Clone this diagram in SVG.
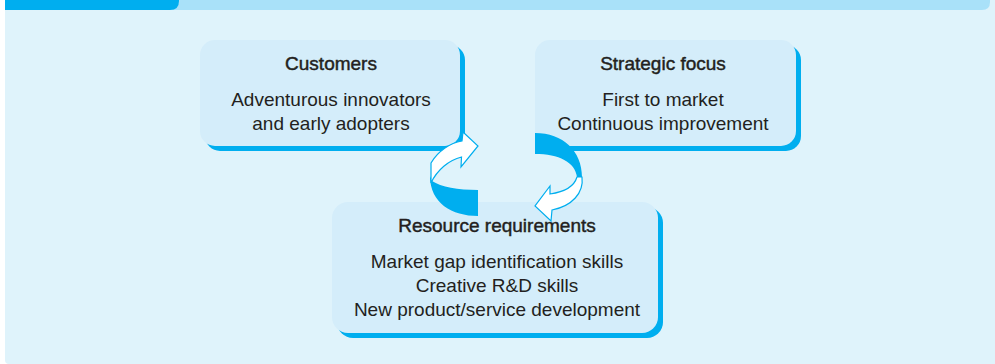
<svg xmlns="http://www.w3.org/2000/svg" width="995" height="364" viewBox="0 0 995 364">
  <style>
    .box { fill: #d4edfa; }
    .shadow { fill: #00aeef; }
    .title { font-family: "Liberation Sans", Arial, sans-serif; font-size: 19px; fill: #231f20; stroke: #231f20; stroke-width: 0.45; text-anchor: middle; }
    .body { font-family: "Liberation Sans", Arial, sans-serif; font-size: 19px; fill: #231f20; text-anchor: middle; }
    .band { fill: #00aeef; }
    .ribbon { fill: #ffffff; stroke: #00aeef; stroke-width: 1.2; stroke-linejoin: miter; }
  </style>
  <rect width="995" height="364" fill="#ffffff"/>
  <g id="background">
    <path d="M5,0 H995 V364 H9 Q5,364 5,360 Z" fill="#dff3fb"/>
    <path d="M5,0 H990 V2 Q990,10 982,10 H5 Z" fill="#a9e1f9"/>
    <path d="M5,0 H179 V1 Q179,10 170,10 H5 Z" fill="#00aeef"/>
  </g>
  <g id="customers">
    <rect class="shadow" x="205" y="45" width="260" height="106" rx="15"/>
    <rect class="box" x="200" y="40" width="260" height="106" rx="15"/>
    <text class="title" x="331" y="70">Customers</text>
    <text class="body" x="331" y="106">Adventurous innovators</text>
    <text class="body" x="331" y="130">and early adopters</text>
  </g>
  <g id="strategic-focus">
    <rect class="shadow" x="540" y="45" width="261" height="106" rx="15"/>
    <rect class="box" x="535" y="40" width="261" height="106" rx="15"/>
    <text class="title" x="663" y="70">Strategic focus</text>
    <text class="body" x="663" y="106">First to market</text>
    <text class="body" x="663" y="130">Continuous improvement</text>
  </g>
  <g id="resource-requirements">
    <rect class="shadow" x="337" y="207" width="326" height="131" rx="16"/>
    <rect class="box" x="332" y="202" width="326" height="131" rx="16"/>
    <text class="title" x="497" y="232">Resource requirements</text>
    <text class="body" x="497" y="268">Market gap identification skills</text>
    <text class="body" x="497" y="292">Creative R&amp;D skills</text>
    <text class="body" x="497" y="316">New product/service development</text>
  </g>
  <g id="connectors">
    <g id="arrow-resource-to-customers">
      <path class="band" d="M430,176 C430,203 452,216 478,216 L478,190 C458,190 441,187 432,181 Z"/>
      <path class="ribbon" d="M431,183 L431,163 C438,151 450,143 462,141 L463,132 L478,146 L461,167 L461.5,157 C449,160 437,170 431,183 Z"/>
    </g>
    <g id="arrow-strategic-to-resource">
      <path class="band" d="M535,133 C563,133 582,151 582,177 L577,177 C575,162 559,154 535,154 Z"/>
      <path class="ribbon" d="M577,177 L582,177 C584,193 572,206 552,210 L551,221 L535,206 L550,186 L550,194 C564,192 574,187 577,177 Z"/>
    </g>
  </g>
</svg>
